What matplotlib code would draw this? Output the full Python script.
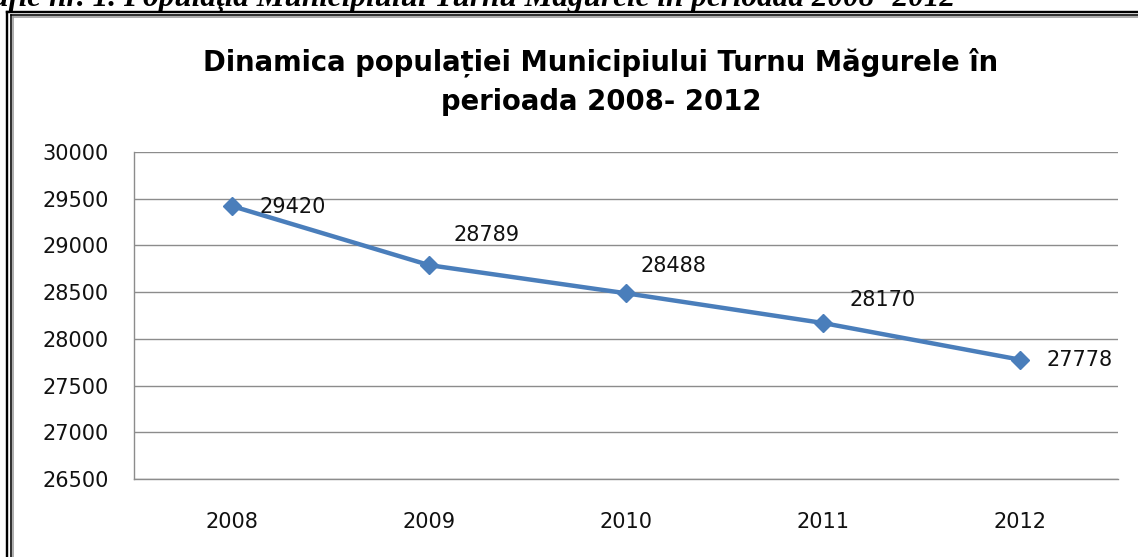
import matplotlib.pyplot as plt
from matplotlib.lines import Line2D

# Date: populatia Municipiului Turnu Magurele
ani = ["2008", "2009", "2010", "2011", "2012"]
populatie = [29420, 28789, 28488, 28170, 27778]
y_ticks = [26500, 27000, 27500, 28000, 28500, 29000, 29500, 30000]

# Deplasarea etichetelor fata de puncte [px] (dx, dy in jos)
label_offsets = [(27, 1), (24, -30), (14, -27), (27, -23), (27, 0)]

W, H = 1138, 557
fig = plt.figure(figsize=(W / 100, H / 100), dpi=100)


def fx(px):
    return px / W


def fy(px):
    return 1 - px / H


# Legenda de sus (taiata de marginea imaginii)
fig.text(fx(955), fy(6), "Grafic nr. 1. Populaţia Municipiului Turnu Măgurele în perioada 2008- 2012",
         ha="right", va="baseline", fontsize=22.5, family="Liberation Serif",
         style="italic", fontweight="bold")

# Chenar dublu
for x, y, lw, c in [(7.2, 12.2, 2.4, "black"), (11, 15.2, 1.6, "black"), (13, 17, 1.6, "#9a9a9a")]:
    fig.add_artist(Line2D([fx(x), fx(x)], [fy(y), 0], lw=lw * 0.72, color=c, transform=fig.transFigure))
    fig.add_artist(Line2D([fx(x), 1], [fy(y), fy(y)], lw=lw * 0.72, color=c, transform=fig.transFigure))

# Titlu
fig.text(fx(601), fy(82), "Dinamica populației Municipiului Turnu Măgurele în\nperioada 2008- 2012",
         ha="center", va="center", fontsize=19.8, fontweight="bold", family="DejaVu Sans",
         linespacing=1.5)

ax = fig.add_axes([fx(134), fy(479), fx(1118) - fx(134), fy(152) - fy(479)])
x = list(range(len(ani)))
ax.plot(x, populatie, color="#4A7EBB", lw=3.2, marker="D", ms=9, zorder=3)

for i, (v, (dx, dy)) in enumerate(zip(populatie, label_offsets)):
    ax.annotate(str(v), (i, v), xytext=(dx * 0.72, -dy * 0.72), textcoords="offset points",
                ha="left", va="center", fontsize=15, color="#111111")

ax.set_xlim(-0.5, len(ani) - 0.5)
ax.set_ylim(26500, 30000)
ax.set_yticks(y_ticks)
ax.set_xticks(x)
ax.set_xticklabels(ani)
ax.tick_params(axis="both", length=0, labelsize=15, labelcolor="#111111")
ax.tick_params(axis="y", pad=18)
ax.tick_params(axis="x", pad=24)
ax.grid(axis="y", color="#8c8c8c", lw=1)
ax.set_axisbelow(True)
for s in ["top", "right"]:
    ax.spines[s].set_visible(False)
for s in ["left", "bottom"]:
    ax.spines[s].set_color("#8c8c8c")
    ax.spines[s].set_linewidth(1)

fig.savefig("out.png", dpi=100)
